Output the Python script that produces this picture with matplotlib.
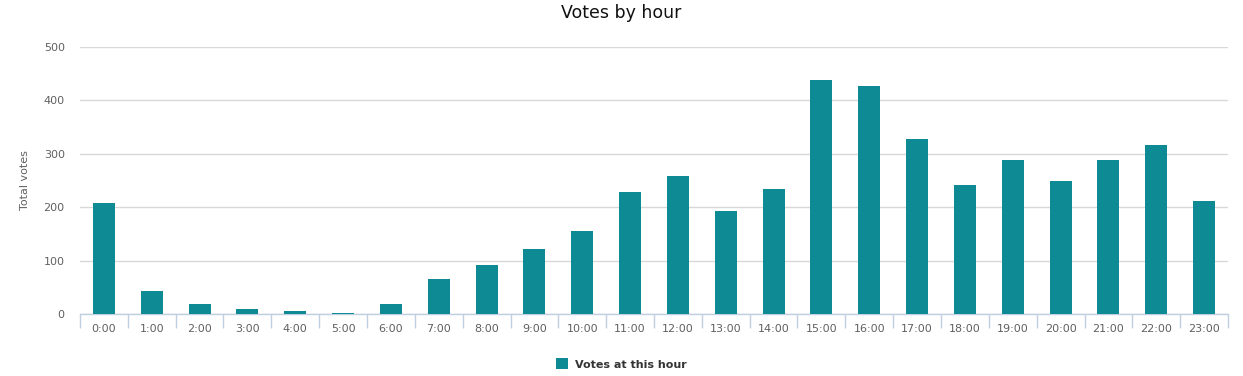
import matplotlib
matplotlib.use("Agg")
import matplotlib.pyplot as plt

# votes per hour of day
hours = ["{}:00".format(h) for h in range(24)]
votes = [207, 43, 19, 9, 6, 2, 19, 66, 92, 122, 155, 228,
         258, 193, 234, 438, 427, 327, 241, 288, 250, 289, 316, 212]

bar_color = "#0e8a95"
grid_color = "#d8d8d8"
axis_color = "#c0d0e0"
label_color = "#606060"

fig = plt.figure(figsize=(12.43, 3.76), dpi=100)
ax = fig.add_axes([80 / 1243, 62 / 376, 1148 / 1243, 267 / 376])

xs = list(range(len(hours)))
ax.bar(xs, votes, width=0.46, color=bar_color, label="Votes at this hour", zorder=3)

ax.set_xlim(-0.5, len(hours) - 0.5)
ax.set_ylim(0, 500)
ax.set_yticks([0, 100, 200, 300, 400, 500])
ax.yaxis.grid(True, color=grid_color, linewidth=1, zorder=0)

# category boundaries get the tick marks, centers get the labels
ax.set_xticks([x - 0.5 for x in range(len(hours) + 1)])
ax.set_xticklabels([])
ax.set_xticks(xs, minor=True)
ax.set_xticklabels(hours, minor=True)
ax.tick_params(axis="x", which="major", length=10, width=1, color=axis_color, direction="out")
ax.tick_params(axis="x", which="minor", length=0, pad=7, labelsize=8, labelcolor=label_color)
ax.tick_params(axis="y", length=0, pad=11, labelsize=8, labelcolor=label_color)

for side in ["top", "right", "left"]:
    ax.spines[side].set_visible(False)
ax.spines["bottom"].set_color(axis_color)
ax.spines["bottom"].set_linewidth(1)

ax.set_ylabel("Total votes", fontsize=8, color=label_color, labelpad=10)

fig.text(0.5, 0.965, "Votes by hour", ha="center", va="center", fontsize=12.5, color="#111111")

leg = fig.legend(loc="center", bbox_to_anchor=(0.5, 0.032), frameon=False,
                 handlelength=1.1, handleheight=1.1, handletextpad=0.6,
                 prop={"size": 8, "weight": "bold"})
for t in leg.get_texts():
    t.set_color("#333333")

fig.savefig("out.png", dpi=100)
